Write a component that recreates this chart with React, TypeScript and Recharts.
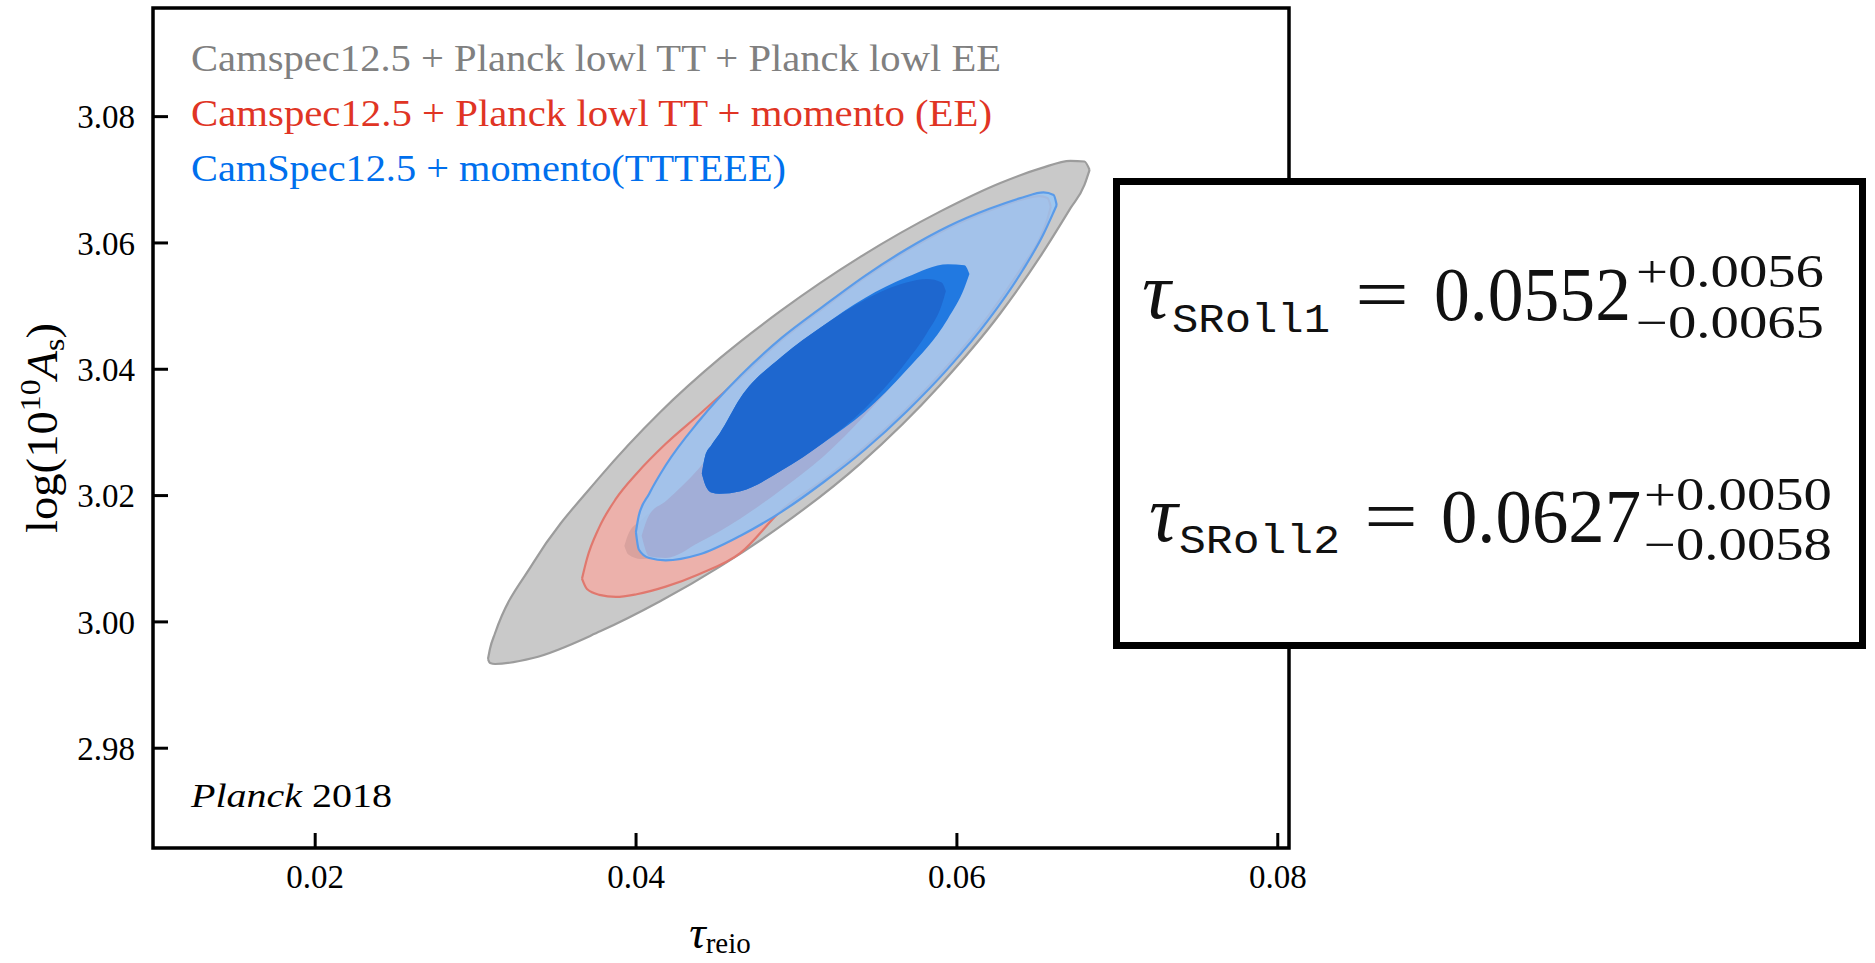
import { Area, ComposedChart, ReferenceArea, XAxis, YAxis } from 'recharts';

// axes
const tauRange: [number, number] = [0.00989, 0.0807];
const logARange: [number, number] = [2.9642, 3.0972];
const tauTicks = [0.02, 0.04, 0.06, 0.08];
const logATicks = [2.98, 3.0, 3.02, 3.04, 3.06, 3.08];

// contour boundaries: [tau, lower logA, upper logA]
const grayOuter = [
  [0.03077, 2.99412, 2.99412],
  [0.0309, 2.9935, 2.9958],
  [0.03121, 2.99333, 2.9982],
  [0.03358, 2.99428, 3.0093],
  [0.03776, 2.9985, 3.023],
  [0.0415, 3.00326, 3.0332],
  [0.04525, 3.0088, 3.0418],
  [0.04899, 3.01512, 3.0492],
  [0.05398, 3.02507, 3.0578],
  [0.05897, 3.03755, 3.065],
  [0.06271, 3.04887, 3.0695],
  [0.06521, 3.05791, 3.0718],
  [0.06708, 3.06551, 3.073],
  [0.06795, 3.06918, 3.0729],
  [0.06827, 3.07156, 3.07156],
];

const redOuter = [
  [0.03663, 3.00684, 3.00684],
  [0.03694, 3.0052, 3.01],
  [0.03771, 3.00428, 3.015],
  [0.03875, 3.00395, 3.0195],
  [0.04004, 3.00438, 3.0235],
  [0.04185, 3.00558, 3.0282],
  [0.04392, 3.00755, 3.0328],
  [0.04651, 3.01093, 3.0387],
  [0.04909, 3.01774, 3.0447],
  [0.05168, 3.02249, 3.0497],
  [0.05427, 3.02772, 3.0545],
  [0.05685, 3.03372, 3.0587],
  [0.05944, 3.04065, 3.0623],
  [0.06202, 3.04866, 3.0651],
  [0.06409, 3.0563, 3.0669],
  [0.06513, 3.06055, 3.0674],
  [0.06565, 3.06382, 3.0671],
  [0.06585, 3.06573, 3.06573],
];

const redInner = [
  [0.03927, 3.01202, 3.01202],
  [0.03952, 3.01066, 3.01393],
  [0.0403, 3.00995, 3.01611],
  [0.04185, 3.01038, 3.01911],
  [0.04392, 3.01256, 3.02429],
  [0.04651, 3.01638, 3.03274],
  [0.04909, 3.02102, 3.03983],
  [0.05168, 3.0262, 3.04528],
  [0.05427, 3.03274, 3.04964],
  [0.05685, 3.04037, 3.05292],
  [0.0584, 3.04637, 3.05373],
  [0.05931, 3.05073, 3.05292],
  [0.05944, 3.0521, 3.0521],
];

// part of the red inner contour seen through the blue one
const redInnerUnderBlue = [
  [0.04035, 3.01365, 3.01365],
  [0.04082, 3.01038, 3.01693],
  [0.04185, 3.01011, 3.01911],
  [0.04392, 3.01256, 3.02429],
  [0.04651, 3.01638, 3.03274],
  [0.04909, 3.02102, 3.03983],
  [0.05168, 3.0262, 3.04528],
  [0.05427, 3.03274, 3.04964],
  [0.05685, 3.04037, 3.05292],
  [0.0584, 3.04637, 3.05373],
  [0.05931, 3.05073, 3.05292],
  [0.05944, 3.0521, 3.0521],
];

const blueOuter = [
  [0.03999, 3.0142, 3.0142],
  [0.04017, 3.01147, 3.0168],
  [0.04082, 3.01011, 3.0203],
  [0.04185, 3.00973, 3.0248],
  [0.04392, 3.01066, 3.0318],
  [0.04651, 3.01365, 3.039],
  [0.04909, 3.01747, 3.045],
  [0.05168, 3.02211, 3.05],
  [0.05427, 3.02729, 3.0548],
  [0.05685, 3.03328, 3.059],
  [0.05944, 3.0401, 3.0626],
  [0.06202, 3.04801, 3.0654],
  [0.06409, 3.05564, 3.0672],
  [0.06539, 3.06137, 3.068],
  [0.06603, 3.06491, 3.0676],
  [0.06622, 3.066, 3.066],
];

const blueInner = [
  [0.0441, 3.0235, 3.0235],
  [0.0443, 3.0218, 3.0262],
  [0.0447, 3.0205, 3.028],
  [0.0452, 3.0203, 3.0298],
  [0.04651, 3.0207, 3.0355],
  [0.04909, 3.02401, 3.04201],
  [0.05168, 3.02838, 3.04692],
  [0.05427, 3.03328, 3.05128],
  [0.05685, 3.03983, 3.05455],
  [0.05944, 3.04801, 3.05662],
  [0.06047, 3.05292, 3.05646],
  [0.06078, 3.0551, 3.0551],
];

// where the two inner contours overlap
const innerOverlap = [
  [0.0441, 3.0235, 3.0235],
  [0.0443, 3.0218, 3.0262],
  [0.0447, 3.0205, 3.028],
  [0.0452, 3.0203, 3.0298],
  [0.04651, 3.0207, 3.0355],
  [0.04909, 3.02401, 3.04201],
  [0.05168, 3.02838, 3.04692],
  [0.05427, 3.03383, 3.05101],
  [0.05685, 3.04119, 3.05373],
  [0.05815, 3.04583, 3.05428],
  [0.05905, 3.05019, 3.05373],
  [0.05931, 3.05237, 3.05237],
];

const legendLines = [
  { text: 'Camspec12.5 + Planck lowl TT + Planck lowl EE', color: '#808080', width: 810 },
  { text: 'Camspec12.5 + Planck lowl TT + momento (EE)', color: '#E03424', width: 801 },
  { text: 'CamSpec12.5 + momento(TTTEEE)', color: '#006FED', width: 595 },
];

const toRows = (rows: number[][]) => rows.map(([x, lo, hi]) => ({ x, r: [lo, hi] }));

const serif = 'Liberation Serif, DejaVu Serif, serif';
const mono = 'Liberation Mono, DejaVu Sans Mono, monospace';

const contours = [
  { rows: grayOuter, fill: '#c9c9c9', stroke: '#9c9c9c', opacity: 1 },
  { rows: redOuter, fill: '#ecb1ab', stroke: '#e0786e', opacity: 1 },
  { rows: redInner, fill: '#d9a29e', stroke: 'none', opacity: 1 },
  { rows: blueOuter, fill: '#97c5f5', stroke: '#5a9be9', opacity: 0.85 },
  { rows: redInnerUnderBlue, fill: '#a2aed7', stroke: 'none', opacity: 1 },
  { rows: blueInner, fill: '#2179e1', stroke: 'none', opacity: 1 },
  { rows: innerOverlap, fill: '#1e67cf', stroke: 'none', opacity: 1 },
];

const App = () => {
  return (
    <div style={{ position: 'absolute', left: 0, top: 0, width: 1875, height: 963, background: '#fff', fontFamily: serif }}>
      <ComposedChart width={1875} height={963} margin={{ top: 8, right: 586, bottom: 0, left: 0 }}>
        <XAxis
          type='number'
          dataKey='x'
          domain={tauRange}
          ticks={tauTicks}
          allowDataOverflow
          height={115}
          axisLine={false}
          tickSize={-15}
          tickMargin={32}
          tickLine={{ stroke: '#000', strokeWidth: 3 }}
          tick={{ fill: '#000', fontSize: 33, style: { fontFamily: serif } }}
          tickFormatter={(v: number) => v.toFixed(2)}
        />
        <YAxis
          type='number'
          domain={logARange}
          ticks={logATicks}
          allowDataOverflow
          width={153}
          axisLine={false}
          tickSize={-15}
          tickMargin={33}
          tickLine={{ stroke: '#000', strokeWidth: 3 }}
          tick={{ fill: '#000', fontSize: 33, style: { fontFamily: serif } }}
          tickFormatter={(v: number) => v.toFixed(2)}
        />
        {contours.map((c, i) => (
          <Area
            key={i}
            data={toRows(c.rows)}
            dataKey='r'
            type='monotone'
            fill={c.fill}
            fillOpacity={c.opacity}
            stroke={c.stroke}
            strokeWidth={2.2}
            dot={false}
            activeDot={false}
            isAnimationActive={false}
          />
        ))}
        <ReferenceArea
          x1={tauRange[0]}
          x2={tauRange[1]}
          y1={logARange[0]}
          y2={logARange[1]}
          fill='none'
          stroke='#000'
          strokeWidth={3.5}
          ifOverflow='visible'
        />
      </ComposedChart>

      <svg
        width={1875}
        height={963}
        style={{ position: 'absolute', left: 0, top: 0, pointerEvents: 'none', fontFamily: serif }}
      >
        {legendLines.map((l, i) => (
          <text key={l.text} x={191} y={71 + i * 55} fontSize={38} fill={l.color} textLength={l.width} lengthAdjust='spacingAndGlyphs'>
            {l.text}
          </text>
        ))}
        <text x={191} y={807} fontSize={33} fill='#000' textLength={201} lengthAdjust='spacingAndGlyphs'>
          <tspan fontStyle='italic'>Planck</tspan> 2018
        </text>

        <text x={720} y={948} fontSize={46} textAnchor='middle' fill='#000'>
          <tspan fontStyle='italic'>τ</tspan>
          <tspan fontSize={29} dy={5}>reio</tspan>
        </text>

        <text transform='translate(57,428) rotate(-90)' fontSize={44} textAnchor='middle' fill='#000' textLength={210} lengthAdjust='spacingAndGlyphs'>
          log(10<tspan fontSize={30} dy={-17}>10</tspan>
          <tspan fontStyle='italic' dy={17}>A</tspan>
          <tspan fontSize={30} dy={7}>s</tspan>
          <tspan dy={-7}>)</tspan>
        </text>

        <rect x={1116.5} y={181.5} width={746} height={464} fill='#fff' stroke='#000' strokeWidth={7} />
        <g fill='#111'>
          <text x={1142} y={318} fontSize={80} fontStyle='italic'>τ</text>
          <text x={1172} y={332} fontSize={40} style={{ fontFamily: mono }} textLength={158} lengthAdjust='spacingAndGlyphs'>SRoll1</text>
          <text x={1355} y={320} fontSize={76} textLength={54} lengthAdjust='spacingAndGlyphs'>=</text>
          <text x={1434} y={320} fontSize={76} textLength={197} lengthAdjust='spacingAndGlyphs'>0.0552</text>
          <text x={1636} y={287} fontSize={46} textLength={188} lengthAdjust='spacingAndGlyphs'>+0.0056</text>
          <text x={1636} y={338} fontSize={46} textLength={188} lengthAdjust='spacingAndGlyphs'>−0.0065</text>

          <text x={1149} y={541} fontSize={80} fontStyle='italic'>τ</text>
          <text x={1179} y={553} fontSize={40} style={{ fontFamily: mono }} textLength={161} lengthAdjust='spacingAndGlyphs'>SRoll2</text>
          <text x={1364} y={542} fontSize={76} textLength={54} lengthAdjust='spacingAndGlyphs'>=</text>
          <text x={1441} y={542} fontSize={76} textLength={200} lengthAdjust='spacingAndGlyphs'>0.0627</text>
          <text x={1644} y={510} fontSize={46} textLength={188} lengthAdjust='spacingAndGlyphs'>+0.0050</text>
          <text x={1644} y={560} fontSize={46} textLength={188} lengthAdjust='spacingAndGlyphs'>−0.0058</text>
        </g>
      </svg>
    </div>
  );
};

export default App;
